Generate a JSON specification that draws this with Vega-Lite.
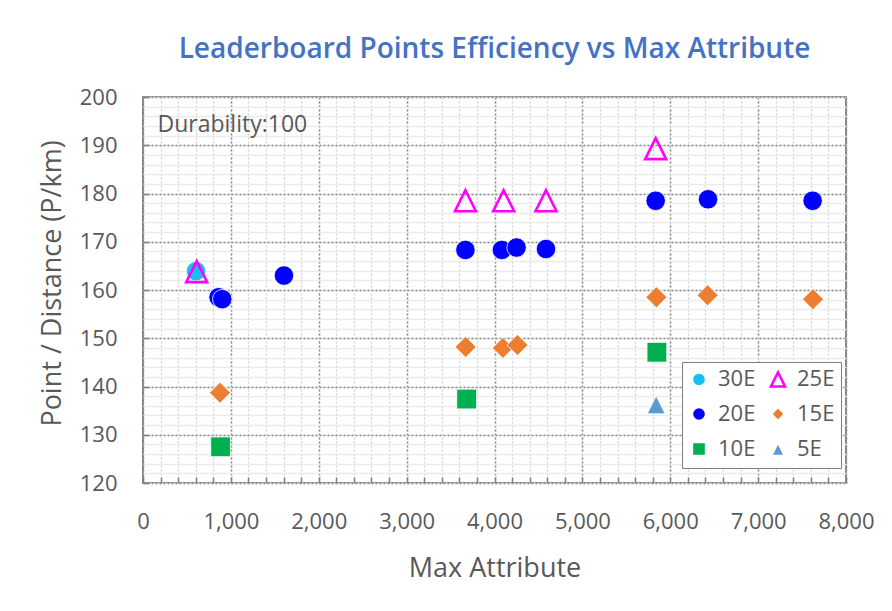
{
  "$schema": "https://vega.github.io/schema/vega-lite/v6.json",
  "width": 703,
  "height": 386,
  "autosize": {"type": "none"},
  "padding": {"left": 143, "top": 97, "right": 46, "bottom": 128},
  "background": "white",
  "title": {
    "text": "Leaderboard Points Efficiency vs Max Attribute",
    "anchor": "middle",
    "font": "Open Sans",
    "fontSize": 28,
    "fontWeight": 600,
    "color": "#4472C4",
    "offset": 22
  },
  "config": {
    "view": {"stroke": "#808080", "strokeWidth": 2},
    "font": "Open Sans"
  },
  "data": {
    "values": [
      {"series": "30E", "attr": 603, "eff": 163.9},
      {"series": "25E", "attr": 611, "eff": 163.8},
      {"series": "25E", "attr": 3669, "eff": 178.5},
      {"series": "25E", "attr": 4104, "eff": 178.5},
      {"series": "25E", "attr": 4586, "eff": 178.5},
      {"series": "25E", "attr": 5834, "eff": 189.3},
      {"series": "20E", "attr": 860, "eff": 158.5},
      {"series": "20E", "attr": 902, "eff": 158.1},
      {"series": "20E", "attr": 1604, "eff": 163.0},
      {"series": "20E", "attr": 3669, "eff": 168.3},
      {"series": "20E", "attr": 4084, "eff": 168.3},
      {"series": "20E", "attr": 4251, "eff": 168.8},
      {"series": "20E", "attr": 4586, "eff": 168.5},
      {"series": "20E", "attr": 5834, "eff": 178.5},
      {"series": "20E", "attr": 6430, "eff": 178.8},
      {"series": "20E", "attr": 7620, "eff": 178.5},
      {"series": "15E", "attr": 876, "eff": 138.7},
      {"series": "15E", "attr": 3672, "eff": 148.2},
      {"series": "15E", "attr": 4096, "eff": 148.0},
      {"series": "15E", "attr": 4261, "eff": 148.6},
      {"series": "15E", "attr": 5842, "eff": 158.5},
      {"series": "15E", "attr": 6425, "eff": 158.9},
      {"series": "15E", "attr": 7624, "eff": 158.1},
      {"series": "10E", "attr": 883, "eff": 127.5},
      {"series": "10E", "attr": 3683, "eff": 137.4},
      {"series": "10E", "attr": 5848, "eff": 147.1},
      {"series": "5E", "attr": 5840, "eff": 136.2}
    ]
  },
  "resolve": {"axis": {"x": "independent", "y": "independent"}},
  "layer": [
    {
      "mark": {"type": "point", "opacity": 0},
      "encoding": {
        "x": {
          "field": "attr", "type": "quantitative",
          "scale": {"domain": [0, 8000], "nice": false},
          "axis": {
            "orient": "bottom",
            "values": [0,200,400,600,800,1000,1200,1400,1600,1800,2000,2200,2400,2600,2800,3000,3200,3400,3600,3800,4000,4200,4400,4600,4800,5000,5200,5400,5600,5800,6000,6200,6400,6600,6800,7000,7200,7400,7600,7800,8000],
            "grid": true, "gridColor": "#cfcfcf", "gridDash": [2, 2], "gridWidth": 1.3,
            "labels": false, "domain": false,
            "ticks": true, "tickSize": -6, "tickColor": "#808080", "tickWidth": 1.5,
            "title": null
          }
        },
        "y": {
          "field": "eff", "type": "quantitative",
          "scale": {"domain": [120, 200], "nice": false, "zero": false},
          "axis": {
            "orient": "left",
            "values": [120,122,124,126,128,130,132,134,136,138,140,142,144,146,148,150,152,154,156,158,160,162,164,166,168,170,172,174,176,178,180,182,184,186,188,190,192,194,196,198,200],
            "grid": true, "gridColor": "#ebebeb", "gridWidth": 1.5,
            "labels": false, "domain": false, "ticks": false,
            "title": null
          }
        }
      }
    },
    {
      "data": {"values": [{"note": "Durability:100"}]},
      "mark": {"type": "text", "align": "left", "baseline": "middle", "fontSize": 23, "color": "#595959", "font": "Open Sans"},
      "encoding": {
        "x": {"datum": 165, "type": "quantitative", "axis": null},
        "y": {"datum": 194.3, "type": "quantitative", "axis": null},
        "text": {"field": "note"}
      }
    },
    {
      "mark": {"type": "point", "opacity": 1},
      "encoding": {
        "x": {
          "field": "attr", "type": "quantitative",
          "axis": {
            "orient": "bottom",
            "values": [0,1000,2000,3000,4000,5000,6000,7000,8000],
            "format": ",d", "labelFlush": false,
            "grid": true, "gridColor": "#8a8a8a", "gridDash": [2, 2], "gridWidth": 1.5,
            "ticks": false, "domain": false,
            "labelFontSize": 22, "labelColor": "#595959", "labelPadding": 28,
            "title": "Max Attribute", "titleFontSize": 27, "titleFontWeight": "normal",
            "titleColor": "#595959", "titlePadding": 23
          }
        },
        "y": {
          "field": "eff", "type": "quantitative",
          "axis": {
            "orient": "left",
            "values": [120,130,140,150,160,170,180,190,200],
            "labelFlush": false,
            "grid": true, "gridColor": "#8a8a8a", "gridDash": [2, 2], "gridWidth": 1.5,
            "ticks": true, "tickSize": -6, "tickColor": "#808080", "tickWidth": 1.5, "domain": false,
            "labelFontSize": 22, "labelColor": "#595959", "labelPadding": 32,
            "title": "Point / Distance (P/km)", "titleFontSize": 27, "titleFontWeight": "normal",
            "titleColor": "#595959", "titlePadding": 13, "titleY": 186
          }
        },
        "shape": {
          "field": "series", "type": "nominal",
          "scale": {
            "domain": ["30E", "20E", "10E", "25E", "15E", "5E"],
            "range": ["circle", "circle", "square", "M0,-1L1,1L-1,1Z", "diamond", "M0,-1L1,1L-1,1Z"]
          },
          "legend": {
            "orient": "none", "legendX": 539, "legendY": 265,
            "title": null, "columns": 2, "columnPadding": 9, "rowPadding": 9,
            "labelFontSize": 22, "labelColor": "#595959", "labelOffset": 8,
            "symbolSize": 200, "symbolStrokeWidth": 2.5,
            "strokeColor": "#808080", "fillColor": "white", "padding": 6
          }
        },
        "fill": {
          "field": "series", "type": "nominal",
          "scale": {
            "domain": ["30E", "20E", "10E", "25E", "15E", "5E"],
            "range": ["#17C0F0", "#0000FF", "#00B050", "transparent", "#ED7D31", "#5B9BD5"]
          },
          "legend": {
            "orient": "none", "legendX": 539, "legendY": 265,
            "title": null, "columns": 2, "columnPadding": 9, "rowPadding": 9,
            "labelFontSize": 22, "labelColor": "#595959", "labelOffset": 8,
            "symbolSize": 200, "symbolStrokeWidth": 2.5,
            "strokeColor": "#808080", "fillColor": "white", "padding": 6
          }
        },
        "stroke": {
          "field": "series", "type": "nominal",
          "scale": {
            "domain": ["30E", "20E", "10E", "25E", "15E", "5E"],
            "range": ["white", "white", "white", "#FF00FF", "white", "white"]
          },
          "legend": {
            "orient": "none", "legendX": 539, "legendY": 265,
            "title": null, "columns": 2, "columnPadding": 9, "rowPadding": 9,
            "labelFontSize": 22, "labelColor": "#595959", "labelOffset": 8,
            "symbolSize": 200, "symbolStrokeWidth": 2.5,
            "strokeColor": "#808080", "fillColor": "white", "padding": 6
          }
        },
        "strokeWidth": {
          "field": "series", "type": "nominal",
          "scale": {
            "type": "ordinal",
            "domain": ["5E", "10E", "15E", "20E", "25E", "30E"],
            "range": [0.8, 0.8, 0.8, 0.8, 2.6, 0.8]
          },
          "legend": null
        },
        "size": {
          "field": "series", "type": "nominal",
          "scale": {
            "type": "ordinal",
            "domain": ["5E", "10E", "15E", "20E", "25E", "30E"],
            "range": [320, 390, 440, 380, 440, 380]
          },
          "legend": null
        }
      }
    }
  ]
}
